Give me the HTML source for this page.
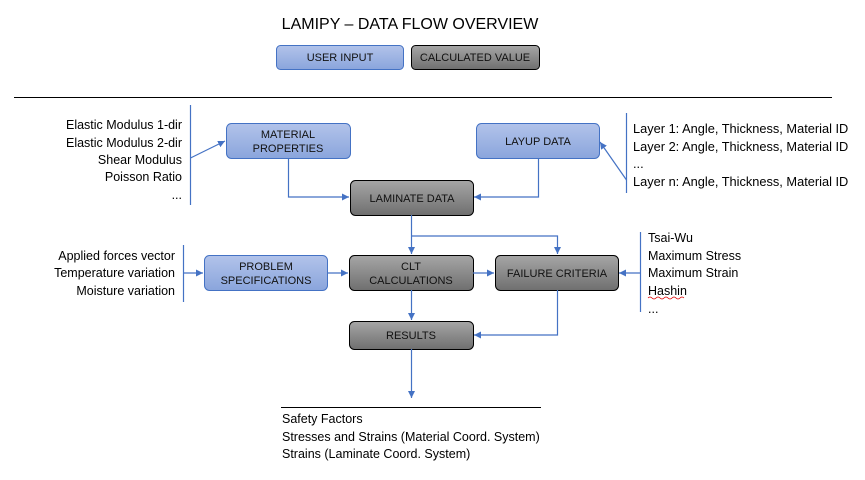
<!DOCTYPE html>
<html><head><meta charset="utf-8"><style>
body{margin:0;background:#fff;}
svg{display:block;font-family:"Liberation Sans",sans-serif;}
</style></head><body>
<svg width="865" height="480" viewBox="0 0 865 480">
<defs>
<linearGradient id="b" x1="0" y1="0" x2="0" y2="1"><stop offset="0" stop-color="#b2c3ea"/><stop offset="1" stop-color="#8aa5dc"/></linearGradient>
<linearGradient id="g" x1="0" y1="0" x2="0" y2="1"><stop offset="0" stop-color="#a6a6a6"/><stop offset="1" stop-color="#6f6f6f"/></linearGradient>
<marker id="a" markerWidth="8" markerHeight="8" refX="7" refY="4" orient="auto" markerUnits="userSpaceOnUse"><path d="M0,0.5 L7,4 L0,7.5z" fill="#4472c4"/></marker>
</defs>
<text x="410" y="29" font-size="16" text-anchor="middle" fill="#000">LAMIPY – DATA FLOW OVERVIEW</text>
<g stroke-width="1">
<rect x="276.5" y="45.5" width="127" height="24" rx="4" fill="url(#b)" stroke="#4472c4"/>
<rect x="411.5" y="45.5" width="128" height="24" rx="4" fill="url(#g)" stroke="#000"/>
<rect x="226.5" y="123.5" width="124" height="35" rx="5" fill="url(#b)" stroke="#4472c4"/>
<rect x="476.5" y="123.5" width="123" height="35" rx="5" fill="url(#b)" stroke="#4472c4"/>
<rect x="204.5" y="255.5" width="123" height="35" rx="5" fill="url(#b)" stroke="#4472c4"/>
<rect x="350.5" y="180.5" width="123" height="35" rx="5" fill="url(#g)" stroke="#000"/>
<rect x="349.5" y="255.5" width="124" height="35" rx="5" fill="url(#g)" stroke="#000"/>
<rect x="495.5" y="255.5" width="123" height="35" rx="5" fill="url(#g)" stroke="#000"/>
<rect x="349.5" y="321.5" width="124" height="28" rx="5" fill="url(#g)" stroke="#000"/>
</g>
<g font-size="11" text-anchor="middle" fill="#111">
<text x="340" y="61">USER INPUT</text>
<text x="475" y="61">CALCULATED VALUE</text>
<text x="288" y="138">MATERIAL</text><text x="288" y="152">PROPERTIES</text>
<text x="538" y="145">LAYUP DATA</text>
<text x="412" y="202">LAMINATE DATA</text>
<text x="266" y="270">PROBLEM</text><text x="266" y="284">SPECIFICATIONS</text>
<text x="411" y="270">CLT</text><text x="411" y="284">CALCULATIONS</text>
<text x="557" y="277">FAILURE CRITERIA</text>
<text x="411" y="339">RESULTS</text>
</g>
<g stroke="#000" stroke-width="1">
<line x1="14" y1="97.5" x2="832" y2="97.5"/>
<line x1="281" y1="407.5" x2="541" y2="407.5"/>
</g>
<g stroke="#4472c4" stroke-width="1.2" fill="none">
<line x1="190.5" y1="105" x2="190.5" y2="205"/>
<line x1="190.5" y1="158" x2="225" y2="141" marker-end="url(#a)"/>
<line x1="626.5" y1="113" x2="626.5" y2="193"/>
<line x1="626.5" y1="180" x2="600" y2="142" marker-end="url(#a)"/>
<line x1="183.5" y1="245" x2="183.5" y2="302"/>
<line x1="183.5" y1="273" x2="203" y2="273" marker-end="url(#a)"/>
<line x1="640.5" y1="232" x2="640.5" y2="312"/>
<line x1="640.5" y1="273" x2="619" y2="273" marker-end="url(#a)"/>
<polyline points="288.5,158 288.5,197 349,197" marker-end="url(#a)"/>
<polyline points="538.5,158 538.5,197 474,197" marker-end="url(#a)"/>
<line x1="411.5" y1="215" x2="411.5" y2="254" marker-end="url(#a)"/>
<polyline points="411.5,236 557.5,236 557.5,254" marker-end="url(#a)"/>
<line x1="327" y1="273" x2="348" y2="273" marker-end="url(#a)"/>
<line x1="473" y1="273" x2="494" y2="273" marker-end="url(#a)"/>
<line x1="411.5" y1="290" x2="411.5" y2="320" marker-end="url(#a)"/>
<polyline points="557.5,290 557.5,335 474,335" marker-end="url(#a)"/>
<line x1="411.5" y1="349" x2="411.5" y2="398" marker-end="url(#a)"/>
</g>
<g font-size="12.5" fill="#000">
<g text-anchor="end">
<text x="182" y="129">Elastic Modulus 1-dir</text>
<text x="182" y="147">Elastic Modulus 2-dir</text>
<text x="182" y="164">Shear Modulus</text>
<text x="182" y="181">Poisson Ratio</text>
<text x="182" y="199">...</text>
<text x="175" y="260">Applied forces vector</text>
<text x="175" y="277">Temperature variation</text>
<text x="175" y="295">Moisture variation</text>
</g>
<g font-size="12.8">
<text x="633" y="133">Layer 1: Angle, Thickness, Material ID</text>
<text x="633" y="151">Layer 2: Angle, Thickness, Material ID</text>
<text x="633" y="168">...</text>
<text x="633" y="186">Layer n: Angle, Thickness, Material ID</text>
</g>
<text x="648" y="242">Tsai-Wu</text>
<text x="648" y="260">Maximum Stress</text>
<text x="648" y="277">Maximum Strain</text>
<text x="648" y="295">Hashin</text>
<text x="648" y="313">...</text>
<text x="282" y="423">Safety Factors</text>
<text x="282" y="441">Stresses and Strains (Material Coord. System)</text>
<text x="282" y="458">Strains (Laminate Coord. System)</text>
</g>
<path d="M648,298 q2,-2 4,0 t4,0 t4,0 t4,0 t4,0 t4,0 t4,0 t4,0 t4,0" stroke="#d00" fill="none" stroke-width="0.8"/>
</svg>
</body></html>
